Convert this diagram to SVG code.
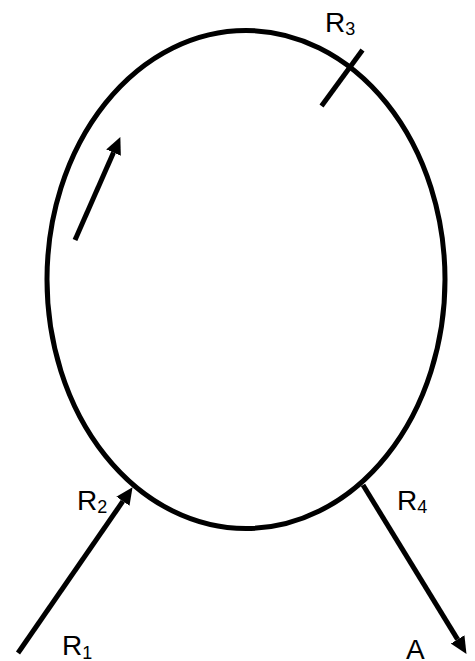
<svg xmlns="http://www.w3.org/2000/svg" width="475" height="661" viewBox="0 0 475 661">
<style>
.ln{stroke:#000;stroke-width:5;fill:none}
.lbl{font-family:"Liberation Sans",Arial,sans-serif;font-size:28px;fill:#000}
.sub{font-size:18px}
</style>
<defs>
<marker id="ah" markerUnits="userSpaceOnUse" markerWidth="18" markerHeight="18" refX="0" refY="8" orient="auto" viewBox="0 0 18 16">
<path d="M0,0 L17,8 L0,16 z" fill="#000"/>
</marker>
</defs>
<rect width="475" height="661" fill="#fff"/>
<g id="loop">
<ellipse class="ln" cx="246" cy="279.5" rx="199" ry="249"/>
</g>
<g id="connectors">
<line class="ln" x1="75" y1="240" x2="113.5" y2="152.6" marker-end="url(#ah)"/>
<line class="ln" x1="18" y1="653" x2="122.9" y2="501.2" marker-end="url(#ah)"/>
<line class="ln" x1="363" y1="485" x2="457.6" y2="639.4" marker-end="url(#ah)"/>
<line class="ln" x1="321.5" y1="106" x2="362.5" y2="50"/>
</g>
<g id="labels">
<text id="R3" class="lbl" x="325" y="32">R<tspan class="sub" dy="3">3</tspan></text>
<text id="R2" class="lbl" x="77" y="510">R<tspan class="sub" dy="3">2</tspan></text>
<text id="R1" class="lbl" x="62" y="655">R<tspan class="sub" dy="4">1</tspan></text>
<text id="R4" class="lbl" x="397" y="510">R<tspan class="sub" dy="3">4</tspan></text>
<text id="A" class="lbl" x="406" y="659">A</text>
</g>
</svg>
